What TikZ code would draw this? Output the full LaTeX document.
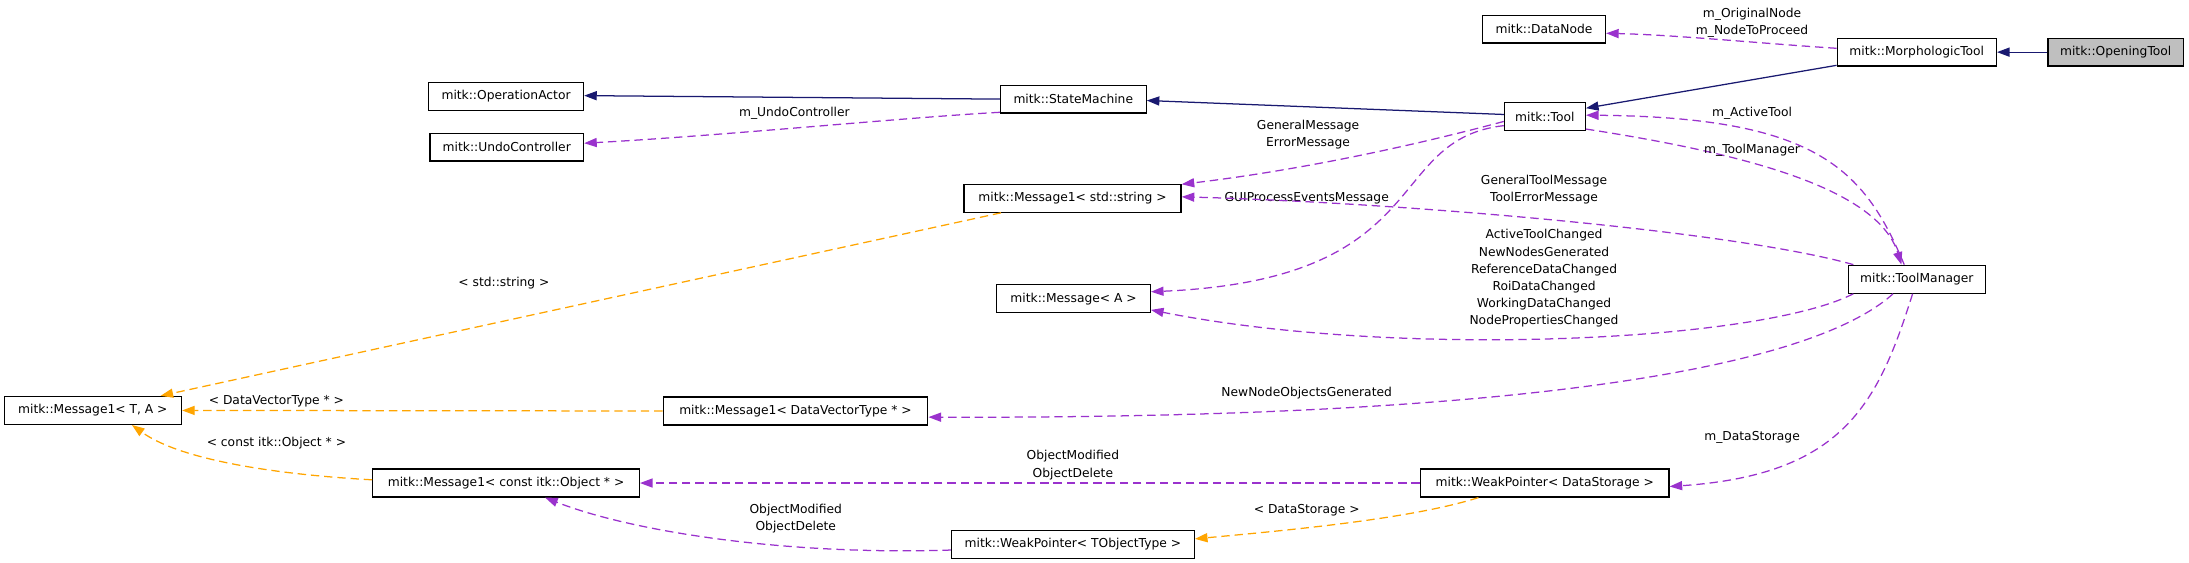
\documentclass[tikz,border=0pt]{standalone}
\usepackage{fontspec}
\setmainfont{DejaVu Sans}
\usetikzlibrary{arrows.meta}
\definecolor{inhblue}{HTML}{191970}
\definecolor{usepurple}{HTML}{9A32CD}
\definecolor{tplorange}{HTML}{FFA500}
\definecolor{leafgray}{HTML}{BFBFBF}
\tikzset{
  box/.style={draw=black, line width=0.9pt, fill=white, inner sep=0pt,
    minimum height=20pt, font=\fontsize{8.8}{12.3}\selectfont},
  lbl/.style={inner sep=0pt, align=center, font=\fontsize{8.8}{12.3}\selectfont},
  inh/.style={draw=inhblue, line width=0.9pt,
    -{Triangle[length=9pt,width=6.5pt]}},
  use/.style={draw=usepurple, line width=0.9pt, dash pattern=on 6pt off 3.5pt,
    -{Triangle[length=9pt,width=6.5pt]}},
  tpl/.style={draw=tplorange, line width=0.9pt, dash pattern=on 6pt off 3.5pt,
    -{Triangle[length=9pt,width=6.5pt]}}
}
\begin{document}
\begin{tikzpicture}[x=1pt,y=-1pt]
\useasboundingbox (0,0) rectangle (1568,403);

% nodes
\node[box, minimum width=97pt, fill=leafgray] (opening) at (1515.5,37.35) {mitk::OpeningTool};
\node[box, minimum width=114pt] (morph) at (1373,37.35) {mitk::MorphologicTool};
\node[box, minimum width=88pt] (datanode) at (1106,20.85) {mitk::DataNode};
\node[box, minimum width=58pt] (tool) at (1106.6,83.5) {mitk::Tool};
\node[box, minimum width=104.4pt] (sm) at (768.8,71) {mitk::StateMachine};
\node[box, minimum width=111pt] (opactor) at (362.5,69) {mitk::OperationActor};
\node[box, minimum width=110pt] (undo) at (363,105.4) {mitk::UndoController};
\node[box, minimum width=155.5pt] (msgstr) at (768.25,142) {mitk::Message1< std::string >};
\node[box, minimum width=110pt] (msgA) at (769,214) {mitk::Message< A >};
\node[box, minimum width=98pt] (toolmgr) at (1373,200) {mitk::ToolManager};
\node[box, minimum width=127pt] (msgTA) at (66.5,294) {mitk::Message1< T, A >};
\node[box, minimum width=189.6pt] (msgDV) at (569.8,294.4) {mitk::Message1< DataVectorType * >};
\node[box, minimum width=191pt] (msgObj) at (362.5,346) {mitk::Message1< const itk::Object * >};
\node[box, minimum width=178pt] (wpDS) at (1106.5,346) {mitk::WeakPointer< DataStorage >};
\node[box, minimum width=174pt] (wpT) at (768.5,390) {mitk::WeakPointer< TObjectType >};

% inheritance
\draw[inh] (opening.west) -- (morph.east);
\draw[inh] ([yshift=1pt]morph.south west) -- ([yshift=6pt]tool.east);
\draw[inh] ([yshift=1.5pt]tool.west) -- ([yshift=-1pt]sm.east);
\draw[inh] (sm.west) -- ([yshift=0.5pt]opactor.east);

% usage
\draw[use] ([yshift=1pt]sm.south west) .. controls (650,84) and (520,97) .. ([yshift=2.8pt]undo.east);
\node[lbl] (lundo) at (569,81.5) {m\_UndoController};

\draw[use] ([yshift=2.75pt]morph.west) .. controls (1260,31) and (1200,25) .. ([yshift=-3pt]datanode.east);
\node[lbl] (lorig) at (1255,16.6) {m\_OriginalNode\\m\_NodeToProceed};

\draw[use] ([xshift=-9pt]toolmgr.north) .. controls (1335,120) and (1300,84) .. ([yshift=1pt]tool.east);
\node[lbl] (lact) at (1255,81) {m\_ActiveTool};

\draw[use] ([yshift=1.5pt]tool.south east) .. controls (1250,110) and (1345,135) .. ([xshift=-11pt]toolmgr.north);
\node[lbl] (ltm) at (1255,107.5) {m\_ToolManager};

\draw[use] ([yshift=-3.5pt]tool.west) .. controls (1010,105) and (930,122) .. ([yshift=10pt]msgstr.east);
\node[lbl] (lgen) at (937,96.3) {GeneralMessage\\ErrorMessage};

\draw[use] ([yshift=-6.5pt]tool.west) .. controls (990,100) and (1030,200) .. ([yshift=5pt]msgA.east);
\node[lbl] (lgui) at (936,141.8) {GUIProcessEventsMessage};

\draw[use] ([xshift=4pt]toolmgr.north west) .. controls (1240,165) and (1000,145) .. ([yshift=1pt]msgstr.east);
\node[lbl] (lgtm) at (1106,136) {GeneralToolMessage\\ToolErrorMessage};

\draw[use] ([xshift=4pt]toolmgr.south west) .. controls (1260,245) and (1000,257) .. ([yshift=-8pt]msgA.east);
\node[lbl] (lchg) at (1106,199.4) {ActiveToolChanged\\NewNodesGenerated\\ReferenceDataChanged\\RoiDataChanged\\WorkingDataChanged\\NodePropertiesChanged};

\draw[use] ([xshift=-17pt]toolmgr.south) .. controls (1290,270) and (1050,300) .. ([yshift=-4.4pt]msgDV.east);
\node[lbl] (lnno) at (936,281.8) {NewNodeObjectsGenerated};

\draw[use] ([xshift=-3pt]toolmgr.south) .. controls (1345,290) and (1320,340) .. ([yshift=-2.5pt]wpDS.east);
\node[lbl] (lds) at (1255,313.4) {m\_DataStorage};

\draw[use] (wpDS.west) -- (msgObj.east);
\node[lbl] (lobj1) at (768.5,333.2) {ObjectModified\\ObjectDelete};

\draw[use] ([yshift=-4pt]wpT.west) .. controls (560,398) and (450,380) .. ([xshift=28pt]msgObj.south);
\node[lbl] (lobj2) at (570,371.3) {ObjectModified\\ObjectDelete};

% template instances
\draw[tpl] ([xshift=-47.5pt]wpDS.south) .. controls (1010,372) and (920,380) .. ([yshift=4pt]wpT.east);
\node[lbl] (ltds) at (936,365.3) {< DataStorage >};

\draw[tpl] ([xshift=27pt]msgstr.south west) -- ([xshift=48.5pt]msgTA.north);
\node[lbl] (ltstr) at (361,202.5) {< std::string >};

\draw[tpl] (msgDV.west) -- (msgTA.east);
\node[lbl] (ltdv) at (198,287.2) {< DataVectorType * >};

\draw[tpl] ([yshift=2.3pt]msgObj.west) .. controls (200,340) and (130,330) .. ([xshift=28pt]msgTA.south);
\node[lbl] (ltobj) at (198,317.5) {< const itk::Object * >};
\end{tikzpicture}
\end{document}
